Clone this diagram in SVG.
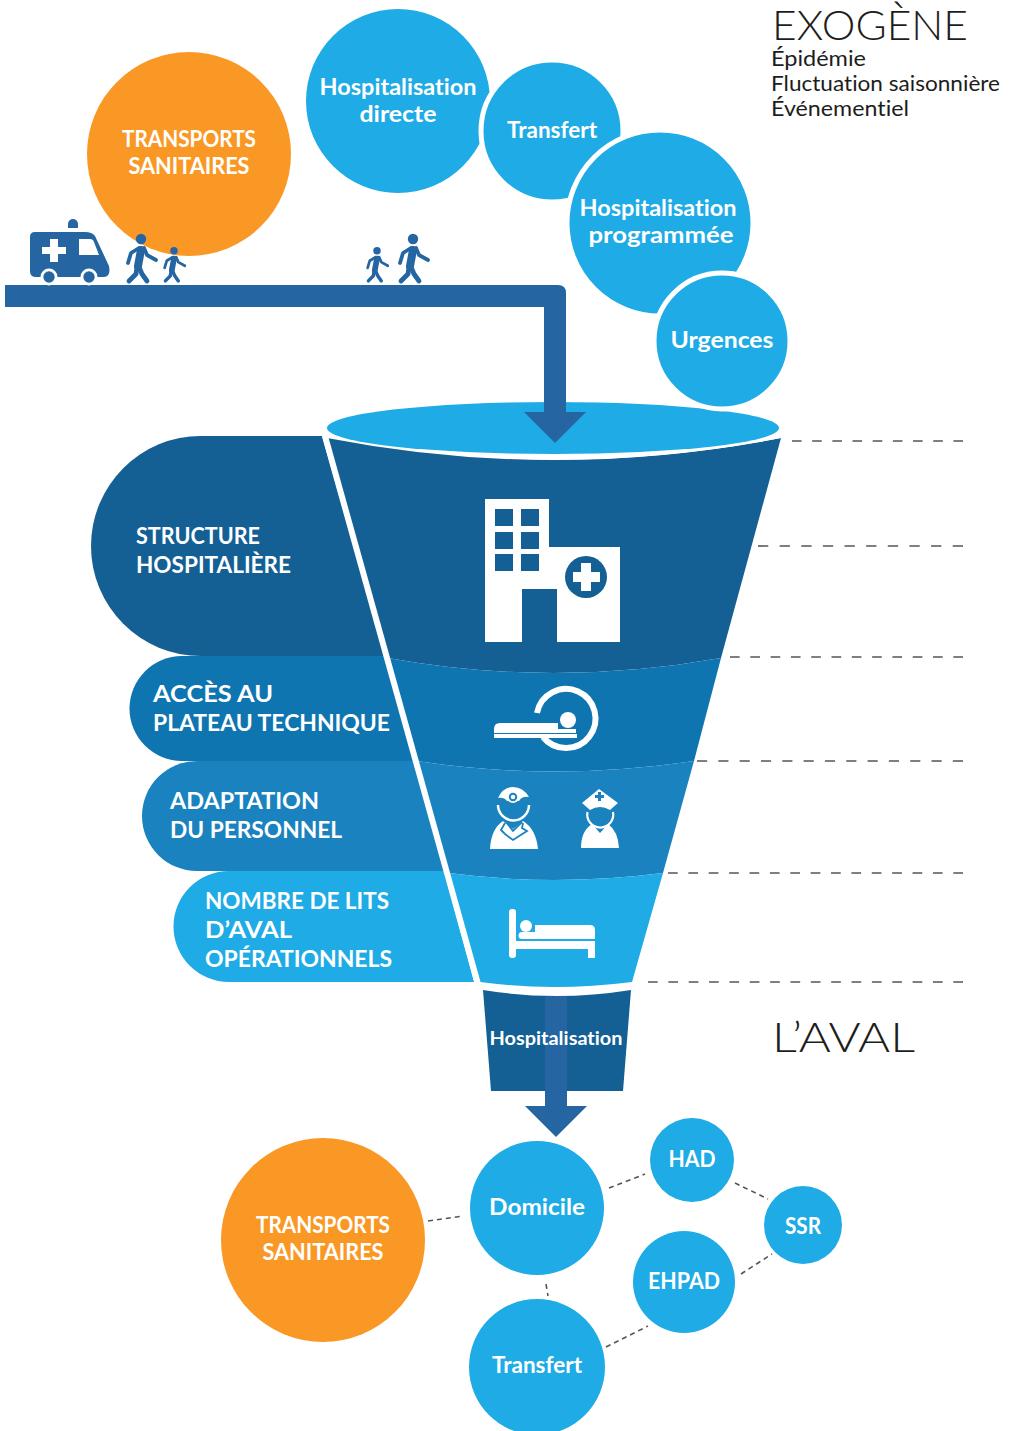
<svg xmlns="http://www.w3.org/2000/svg" xmlns:xlink="http://www.w3.org/1999/xlink" width="1009" height="1431" viewBox="0 0 1009 1431">
<style>
text{font-family:"Lato","Liberation Sans",sans-serif;font-variant-ligatures:none}
.t{fill:#fff;font-weight:700;font-size:22px}
.c{text-anchor:middle}
.k{fill:#1d1d1b;font-size:22px}
.big{fill:#1d1d1b;font-size:41px;font-weight:300}
.blue{fill:#1fabe5}
.or{fill:#fa9826}
.road{fill:#2566a2}
.ring{stroke:#fff;stroke-width:5}
.dash{stroke:#555;stroke-width:1.6;fill:none}
.dot{stroke:#555;stroke-width:1.6;stroke-dasharray:5 4;fill:none}
.w{fill:#fff}
</style>
<defs>
<g id="walker" fill="none" stroke="#2566a2" stroke-linecap="round" stroke-linejoin="round">
<circle cx="0" cy="-38" r="5.2" fill="#2566a2" stroke="none"/>
<path d="M-2-29-10-24-13-14" stroke-width="3.8"/>
<path d="M3-29 6-22 15-17" stroke-width="3.8"/>
<path d="M0-27-3-11" stroke-width="8"/>
<path d="M-4-10-5-3-12 4" stroke-width="4.8"/>
<path d="M-2-10 1-3 6 4" stroke-width="4.8"/>
</g>
</defs>
<g id="hospitalisation-directe"><circle class="blue" cx="398" cy="101" r="92"/><text class="t c" x="398" y="95" textLength="157" lengthAdjust="spacingAndGlyphs">Hospitalisation</text><text class="t c" x="398" y="122" textLength="77" lengthAdjust="spacingAndGlyphs">directe</text></g>
<g id="transfert-haut"><circle class="blue ring" cx="552" cy="131" r="71"/><text class="t c" x="552" y="138" textLength="90" lengthAdjust="spacingAndGlyphs">Transfert</text></g>
<g id="hospitalisation-programmee"><circle class="blue ring" cx="660" cy="223" r="93"/><text class="t c" x="658" y="216" textLength="157" lengthAdjust="spacingAndGlyphs">Hospitalisation</text><text class="t c" x="661" y="243" textLength="145" lengthAdjust="spacingAndGlyphs">programmée</text></g>
<g id="transports-haut"><circle class="or" cx="189" cy="154" r="102"/><text class="t c" x="189" y="147" textLength="134" lengthAdjust="spacingAndGlyphs">TRANSPORTS</text><text class="t c" x="189" y="174" textLength="121" lengthAdjust="spacingAndGlyphs">SANITAIRES</text></g>
<g id="funnel-top">
<path id="pill-1" fill="#145f94" d="M201 436H322L385 656H201A110 110 0 0 1 201 436Z"/>
<path id="pill-2" fill="#0e75b1" d="M182 656H385L414 761H182A52.500 52.500 0 0 1 182 656Z"/>
<path id="pill-3" fill="#1a82bf" d="M197 761H414L444 871H197A55 55 0 0 1 197 761Z"/>
<path id="pill-4" fill="#1fabe5" d="M229 871H444L474 982H229A55.500 55.500 0 0 1 229 871Z"/>
</g>
<g id="funnel">
<path fill="#145f94" d="M327 438Q553 482 781 438L721 658Q553 688 388 658Z"/>
<path fill="#0e75b1" d="M388 658Q553 688 721 658L694 761Q553 782 417 761Z"/>
<path fill="#1a82bf" d="M417 761Q553 782 694 761L663 873Q553 887 449 873Z"/>
<path fill="#1fabe5" d="M449 873Q553 887 663 873L632 982Q553 992 480 982Z"/>
<path d="M325 436 478 984" stroke="#fff" stroke-width="6" fill="none"/>
<path d="M322 422Q325 438 327 436Q553 482 781 438L786 422Z" fill="#fff"/>
<ellipse class="blue" cx="553" cy="428" rx="226" ry="26"/>
</g>
<g id="transfert-urgences"><circle class="blue ring" cx="722" cy="341" r="68"/><text class="t c" x="722" y="348" textLength="103" lengthAdjust="spacingAndGlyphs">Urgences</text></g>
<g id="structure-label"><text class="t" x="136" y="544" textLength="124" lengthAdjust="spacingAndGlyphs">STRUCTURE</text><text class="t" x="136" y="573" textLength="155" lengthAdjust="spacingAndGlyphs">HOSPITALIÈRE</text></g>
<g id="plateau-label"><text class="t" x="153" y="702" textLength="120" lengthAdjust="spacingAndGlyphs">ACCÈS AU</text><text class="t" x="153" y="731" textLength="237" lengthAdjust="spacingAndGlyphs">PLATEAU TECHNIQUE</text></g>
<g id="personnel-label"><text class="t" x="170" y="809" textLength="149" lengthAdjust="spacingAndGlyphs">ADAPTATION</text><text class="t" x="170" y="838" textLength="172" lengthAdjust="spacingAndGlyphs">DU PERSONNEL</text></g>
<g id="lits-label"><text class="t" x="205" y="909" textLength="184" lengthAdjust="spacingAndGlyphs">NOMBRE DE LITS</text><text class="t" x="205" y="938" textLength="87" lengthAdjust="spacingAndGlyphs">D’AVAL</text><text class="t" x="205" y="967" textLength="187" lengthAdjust="spacingAndGlyphs">OPÉRATIONNELS</text></g>
<g id="icon-hospital"><path class="w" fill-rule="evenodd" d="M485 499H549V547H620V642H557V589H522V642H485ZM495 509V526H513V509ZM521 509V526H539V509ZM495 532V549H513V532ZM521 532V549H539V532ZM495 554V571H513V554ZM521 554V571H539V554Z"/><circle cx="586" cy="577" r="21" fill="#145f94"/><path class="w" d="M581 563H591V572H600V582H591V591H581V582H573V572H581Z"/></g>
<g id="icon-scanner"><path d="M537 713A29.500 29.500 0 1 1 543 737" fill="none" stroke="#fff" stroke-width="6"/><circle class="w" cx="568" cy="720" r="8"/><path class="w" d="M500 723H558V729H576V733H494V729Q494 723 500 723Z"/><path class="w" d="M494 734H577V738H494Z"/></g>
<g id="icon-doctor"><path class="w" d="M498 798Q503 787 513 787Q523 787 529 797Q522 796 519 801H507Q504 797 498 798Z"/><circle cx="513" cy="797" r="6" fill="#fff"/><circle cx="513" cy="797" r="4.200" fill="#1a82bf"/><circle class="w" cx="513" cy="797" r="2.200"/><path d="M498 805A15.500 15.500 0 1 0 529 805" fill="none" stroke="#fff" stroke-width="2.500"/><path class="w" d="M490 849Q491 829 503 821L513 829L523 821Q536 829 538 849Z"/><path d="M505 823 501 830 505 834 513 840 527 831 522 828 523 823M506 822 513 831 522 822" fill="none" stroke="#1a82bf" stroke-width="1.800"/></g>
<g id="icon-nurse"><path class="w" d="M582 803 599 789 618 803 610 810Q600 804 590 810Z"/><path d="M598 792H601V795H604V798H601V801H598V798H595V795H598Z" fill="#1a82bf"/><path d="M587.500 812A13 13 0 1 0 613 812" fill="none" stroke="#fff" stroke-width="2.200"/><path class="w" d="M581 848Q581 831 592 824L600 833 608 824Q618 831 619 848Z"/></g>
<g id="icon-bed"><rect class="w" x="509" y="909" width="7" height="49" rx="3"/><path class="w" d="M516 947H595V958H588V949H516Z"/><path class="w" d="M535 925H590Q595 925 595 930V939H535Z"/><circle class="w" cx="526" cy="926" r="6"/><path class="w" d="M522 932H535V939H522A3.500 3.500 0 0 1 522 932Z"/><rect class="w" x="516" y="941" width="79" height="6"/></g>
<g id="hospitalisation-aval"><path fill="#145f94" d="M483 990Q556 1002 631 990L623 1091H491Z"/></g>
<g id="dashes">
<path class="dash" stroke-dasharray="10 11" pathLength="178" d="M792 441H963"/>
<path class="dash" stroke-dasharray="10 11" pathLength="199" d="M758 546H963"/>
<path class="dash" stroke-dasharray="10 11" pathLength="241" d="M730 657H963"/>
<path class="dash" stroke-dasharray="10 11" pathLength="262" d="M697 761H963"/>
<path class="dash" stroke-dasharray="10 11" pathLength="304" d="M668 873H963"/>
<path class="dash" stroke-dasharray="10 11" pathLength="325" d="M648 982H963"/>
</g>
<g id="connectors">
<path class="road" d="M5 285H558Q566 285 566 293V412H586L555 443 524 412H544V307H5Z"/>
<path fill="#2566a2" d="M545 996H567V1106H587L556 1137 525 1106H545Z"/>
<path class="dot" d="M609 1188 645 1174M735 1183 768 1199M741 1274 772 1254M606 1347 648 1326M428 1221 463 1216M546 1284 548 1296"/>
</g>
<text id="hospitalisation-aval-label" class="t c" x="556" y="1045" style="font-size:19px" textLength="133" lengthAdjust="spacingAndGlyphs">Hospitalisation</text>
<g id="ambulance"><path d="M68 228V224A5 5 0 0 1 78 224V228Z" fill="#2566a2"/><path fill="#2566a2" d="M35 232H85Q92 232 95 236L109 266Q111 277 104 277H36Q30 277 30 271V237Q30 232 35 232Z"/><path class="w" d="M79 239H90Q93 239 94 242L99 255H79Z"/><path class="w" d="M50 239H58V247H66V254H58V262H50V254H42V247H50Z"/><circle cx="49" cy="277" r="8.500" class="w"/><circle cx="89" cy="277" r="8.500" class="w"/><circle cx="49" cy="277" r="5.700" fill="#2566a2"/><circle cx="89" cy="277" r="5.700" fill="#2566a2"/></g>
<g id="walkers">
<use xlink:href="#walker" href="#walker" x="141" y="277"/>
<use xlink:href="#walker" href="#walker" transform="translate(174 278) scale(.72)"/>
<use xlink:href="#walker" href="#walker" x="413" y="277"/>
<use xlink:href="#walker" href="#walker" transform="translate(377 278) scale(.72)"/>
</g>
<g id="transports-bas"><circle class="or" cx="323" cy="1240" r="102"/><text class="t c" x="323" y="1233" textLength="134" lengthAdjust="spacingAndGlyphs">TRANSPORTS</text><text class="t c" x="323" y="1260" textLength="121" lengthAdjust="spacingAndGlyphs">SANITAIRES</text></g>
<g id="domicile"><circle class="blue" cx="537" cy="1208" r="67"/><text class="t c" x="537" y="1215" textLength="96" lengthAdjust="spacingAndGlyphs">Domicile</text></g>
<g id="transfert-bas"><circle class="blue" cx="537" cy="1367" r="68"/><text class="t c" x="537" y="1373" textLength="90" lengthAdjust="spacingAndGlyphs">Transfert</text></g>
<g id="had"><circle class="blue" cx="692" cy="1160" r="42"/><text class="t c" x="692" y="1167" textLength="47" lengthAdjust="spacingAndGlyphs">HAD</text></g>
<g id="ssr"><circle class="blue" cx="803" cy="1225" r="39"/><text class="t c" x="803" y="1234" textLength="36" lengthAdjust="spacingAndGlyphs">SSR</text></g>
<g id="ehpad"><circle class="blue" cx="684" cy="1282" r="51"/><text class="t c" x="684" y="1289" textLength="72" lengthAdjust="spacingAndGlyphs">EHPAD</text></g>
<g id="exogene"><text class="big" x="772" y="40" textLength="196" lengthAdjust="spacingAndGlyphs">EXOGÈNE</text><text class="k" x="771" y="66" textLength="95" lengthAdjust="spacingAndGlyphs">Épidémie</text><text class="k" x="771" y="91" textLength="229" lengthAdjust="spacingAndGlyphs">Fluctuation saisonnière</text><text class="k" x="771" y="116" textLength="138" lengthAdjust="spacingAndGlyphs">Événementiel</text></g>
<g id="aval"><text class="big" x="772" y="1052" textLength="143" lengthAdjust="spacingAndGlyphs">L’AVAL</text></g>
</svg>
